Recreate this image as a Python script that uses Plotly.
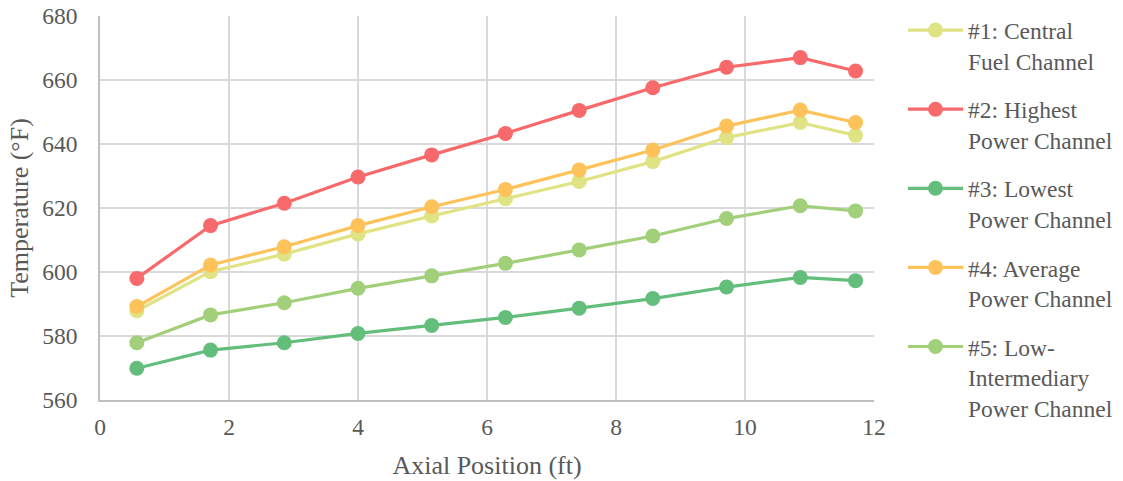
import plotly.graph_objects as go

# Axial node positions (ft)
axial_ft = [0.571, 1.714, 2.857, 4.0, 5.143, 6.286, 7.429, 8.571, 9.714, 10.857, 11.714]

# Coolant temperature per channel (°F)
ch1_central = [587.9, 600.1, 605.6, 611.9, 617.5, 622.9, 628.3, 634.5, 642.0, 646.7, 642.7]
ch2_highest = [598.0, 614.5, 621.5, 629.7, 636.6, 643.3, 650.5, 657.6, 664.0, 667.0, 662.8]
ch3_lowest = [569.9, 575.6, 577.9, 580.8, 583.3, 585.8, 588.7, 591.7, 595.3, 598.3, 597.3]
ch4_average = [589.2, 602.2, 607.9, 614.5, 620.4, 625.8, 631.9, 638.1, 645.6, 650.6, 646.7]
ch5_low_int = [577.9, 586.6, 590.4, 594.9, 598.8, 602.7, 606.9, 611.25, 616.7, 620.7, 619.1]

series_names = [
    "#1: Central<br>Fuel Channel",
    "#2: Highest<br>Power Channel",
    "#3: Lowest<br>Power Channel",
    "#4: Average<br>Power Channel",
    "#5: Low-<br>Intermediary<br>Power Channel",
]
series_values = [ch1_central, ch2_highest, ch3_lowest, ch4_average, ch5_low_int]
series_colors = ["#E0E383", "#F8696B", "#63BE7B", "#FDC35A", "#A2D07A"]

# Drawing order so #2 and #4 sit on top
draw_order = [4, 2, 0, 3, 1]

TEXT = "#595959"
FONT = "'Liberation Serif', 'Times New Roman', 'DejaVu Serif', serif"

fig = go.Figure()
for i in draw_order:
    fig.add_trace(go.Scatter(
        x=axial_ft,
        y=series_values[i],
        name=series_names[i],
        mode="lines+markers",
        line=dict(color=series_colors[i], width=3.2),
        marker=dict(color=series_colors[i], size=15),
        legendgroup=f"g{i}",
        legendrank=i + 1,
    ))

PLOT_FRAC = (874 - 100) / (1123 - 100)

fig.update_layout(
    width=1123,
    height=481,
    margin=dict(l=100, r=0, t=16, b=81, autoexpand=False),
    paper_bgcolor="white",
    plot_bgcolor="white",
    font=dict(family=FONT, color=TEXT, size=23.5),
    showlegend=True,
    legend=dict(
        x=(903 - 100) / (1123 - 100), xanchor="left",
        y=1.02, yanchor="top",
        valign="top",
        tracegroupgap=15,
        itemwidth=55,
        maxheight=481,
        font=dict(family=FONT, size=23.5, color=TEXT),
        bgcolor="rgba(0,0,0,0)",
    ),
)

fig.update_xaxes(
    domain=[0, PLOT_FRAC],
    range=[0, 12],
    dtick=2,
    showgrid=True,
    gridcolor="#D9D9D9",
    gridwidth=1.5,
    zeroline=False,
    showline=True,
    linecolor="#BFBFBF",
    linewidth=1.5,
    ticks="",
    ticklabelstandoff=5,
    tickfont=dict(family=FONT, size=23.5, color=TEXT),
    title=dict(text="Axial Position (ft)", font=dict(family=FONT, size=26, color=TEXT), standoff=17),
)
fig.update_yaxes(
    range=[560, 680],
    dtick=20,
    showgrid=True,
    gridcolor="#D9D9D9",
    gridwidth=1.5,
    zeroline=False,
    showline=True,
    linecolor="#BFBFBF",
    linewidth=1.5,
    ticks="",
    ticklabelstandoff=16,
    tickfont=dict(family=FONT, size=23.5, color=TEXT),
    title=dict(text="Temperature (°F)", font=dict(family=FONT, size=26, color=TEXT), standoff=6),
)

fig.write_html("out.html")
